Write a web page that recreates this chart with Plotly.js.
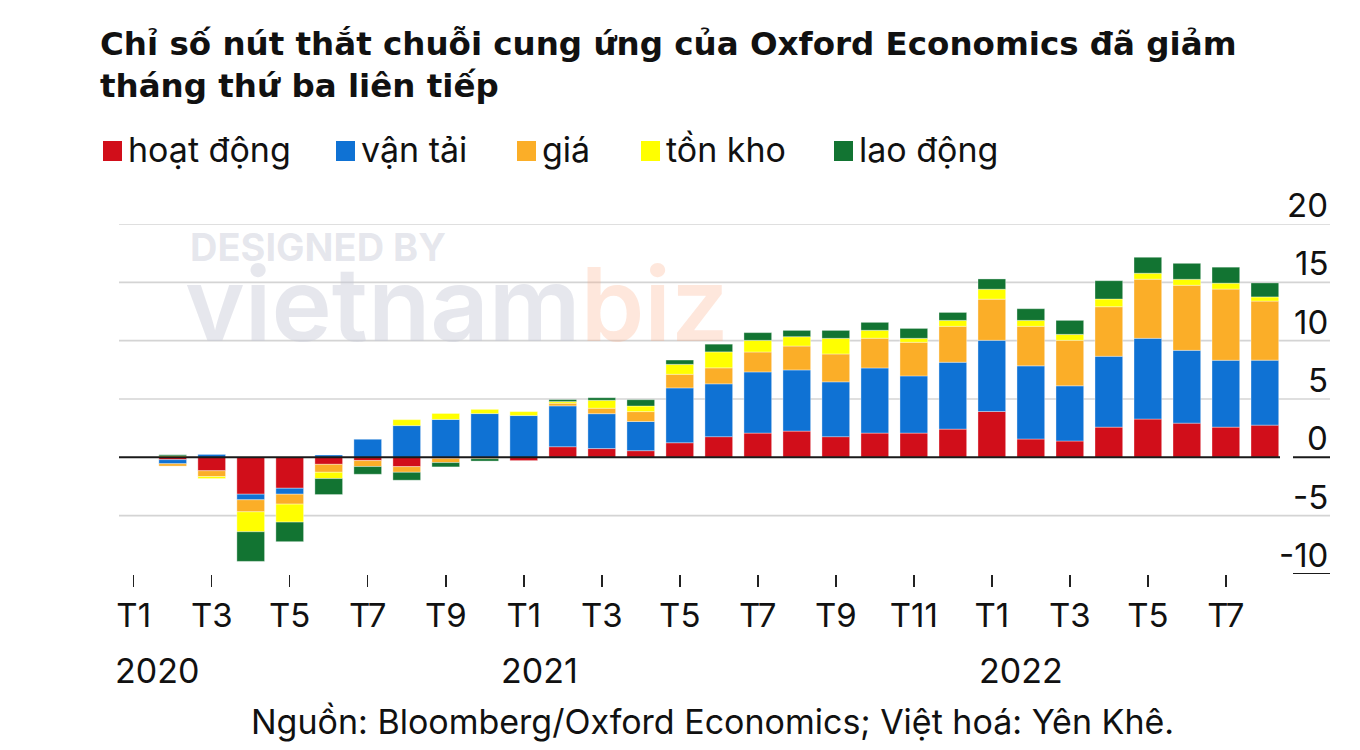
<!DOCTYPE html>
<html>
<head>
<meta charset="utf-8">
<script src="https://cdn.plot.ly/plotly-3.0.1.min.js"></script>
<style>
  html, body { margin: 0; padding: 0; background: #ffffff; }
  #chart { width: 1360px; height: 750px; }
</style>
</head>
<body>
<div id="chart"></div>
<script>
// ---- DATA ----
// slot index 0..29 = monthly positions (slot 0 = T1/2020 has no bar)
const slots = [0,1,2,3,4,5,6,7,8,9,10,11,12,13,14,15,16,17,18,19,20,21,22,23,24,25,26,27,28,29];

const seriesNames = ['hoạt động', 'vận tải', 'giá', 'tồn kho', 'lao động'];

const hoatDong = [null,-0.2,-1.15,-3.16,-2.65,-0.6,-0.28,-0.8,-0.1,null,-0.28,0.91,0.75,0.57,1.25,1.77,2.08,2.25,1.77,2.08,2.08,2.42,3.93,1.57,1.4,2.59,3.28,2.93,2.59,2.76];
const vanTai   = [null,-0.35,0.25,-0.48,-0.51,0.2,1.55,2.72,3.25,3.75,3.58,3.5,2.99,2.5,4.7,4.53,5.24,5.24,4.7,5.58,4.9,5.73,6.1,6.27,4.73,6.07,6.92,6.24,5.73,5.57];
const gia      = [null,-0.2,-0.5,-1.03,-0.85,-0.68,-0.51,-0.48,-0.35,-0.12,null,0.23,0.47,0.85,1.17,1.37,1.71,2.05,2.39,2.55,2.88,3.08,3.53,3.39,3.9,4.25,5.07,5.58,6.1,5.06];
const tonKho   = [null,0.12,-0.17,-1.71,-1.54,-0.54,null,0.51,0.51,0.36,0.34,0.14,0.68,0.48,0.85,1.37,1.0,0.8,1.34,0.68,0.34,0.51,0.85,0.51,0.51,0.66,0.51,0.51,0.51,0.36];
const laoDong  = [null,0.1,null,-2.54,-1.68,-1.37,-0.66,-0.68,-0.37,-0.2,null,0.17,0.22,0.54,0.37,0.66,0.66,0.54,0.68,0.68,0.85,0.68,0.88,1.0,1.2,1.57,1.37,1.37,1.37,1.2];

const tickSlots  = [0,2,4,6,8,10,12,14,16,18,20,22,24,26,28];
const tickLabels = ['T1','T3','T5','T7','T9','T1','T3','T5','T7','T9','T11','T1','T3','T5','T7'];
const yearLabels = ['2020','2021','2022'];
const yTicks = [-10,-5,0,5,10,15,20];
const yTickText = ['-10','-5','0','5','10','15','20'];

const titleText = 'Chỉ số nút thắt chuỗi cung ứng của Oxford Economics đã giảm<br>tháng thứ ba liên tiếp';
const sourceText = 'Nguồn: Bloomberg/Oxford Economics; Việt hoá: Yên Khê.';

// ---- STYLE ----
const colors = ['#d10e1a', '#0f72d4', '#fbae28', '#ffff00', '#127432'];
const FONT = 'Inter, "Noto Sans", "Liberation Sans", sans-serif';
const TFONT = '"DejaVu Sans", Inter, sans-serif';

// plot area in pixels
const L = 119, R = 30, T = 224, B = 176, W = 1360, H = 750;
const pw = W - L - R, ph = H - T - B;
const px = p => (p - L) / pw;         // pixel x -> paper x
const py = p => (H - B - p) / ph;     // pixel y -> paper y

const allSeries = [hoatDong, vanTai, gia, tonKho, laoDong];
const traces = allSeries.map((vals, i) => ({
  type: 'bar',
  name: seriesNames[i],
  x: slots,
  y: vals,
  width: 0.71,
  marker: { color: colors[i], line: { color: 'rgba(255,255,255,0.35)', width: 1 } },
  hoverinfo: 'skip',
  showlegend: false
}));

const shapes = [];
const annotations = [];

// gridlines (grey) except 0 and -10
yTicks.forEach(v => {
  if (v === 0 || v === -10) return;
  shapes.push({ type: 'line', layer: 'below', xref: 'paper', yref: 'y', x0: 0, x1: 1, y0: v, y1: v,
    line: { color: '#d4d4d4', width: 1.6 } });
});
// zero baseline under the bars
shapes.push({ type: 'line', layer: 'above', xref: 'paper', yref: 'y', x0: 0, x1: px(1280), y0: 0, y1: 0,
  line: { color: '#1a1a1a', width: 2 } });
// short underline under "0" and "-10" labels
[0, -10].forEach(v => shapes.push({ type: 'line', layer: 'above', xref: 'paper', yref: 'y', x0: px(1293), x1: 1, y0: v, y1: v,
  line: { color: '#1a1a1a', width: 2 } }));

// y tick labels sitting above their gridlines at the right edge
yTicks.forEach((v, i) => annotations.push({ xref: 'paper', yref: 'y', x: 1, y: v, xanchor: 'right', yanchor: 'bottom',
  yshift: -3, text: yTickText[i], showarrow: false, font: { family: FONT, size: 33, color: '#111' } }));

// custom legend
const legendX = [103, 336, 517, 641, 834];
seriesNames.forEach((n, i) => {
  shapes.push({ type: 'rect', xref: 'paper', yref: 'paper', x0: px(legendX[i]), x1: px(legendX[i] + 19),
    y0: py(161), y1: py(141), fillcolor: colors[i], line: { width: 0 } });
  annotations.push({ xref: 'paper', yref: 'paper', x: px(legendX[i] + 23), y: py(150), xanchor: 'left', yanchor: 'middle',
    text: n, showarrow: false, font: { family: FONT, size: 34, color: '#111' } });
});

// year labels
annotations.push({ xref: 'paper', yref: 'paper', x: px(113), y: py(670), xanchor: 'left', yanchor: 'middle', text: yearLabels[0], showarrow: false, font: { family: FONT, size: 34, color: '#111' } });
annotations.push({ xref: 'x', yref: 'paper', x: 10.4, y: py(670), xanchor: 'center', yanchor: 'middle', text: yearLabels[1], showarrow: false, font: { family: FONT, size: 34, color: '#111' } });
annotations.push({ xref: 'x', yref: 'paper', x: 22.75, y: py(670), xanchor: 'center', yanchor: 'middle', text: yearLabels[2], showarrow: false, font: { family: FONT, size: 34, color: '#111' } });

// source
annotations.push({ xref: 'paper', yref: 'paper', x: px(712), y: py(721), xanchor: 'center', yanchor: 'middle', text: sourceText, showarrow: false, font: { family: FONT, size: 34, color: '#111' } });

// watermark
annotations.push({ xref: 'paper', yref: 'paper', x: px(318), y: py(247), xanchor: 'center', yanchor: 'middle', text: 'DESIGNED BY', showarrow: false,
  font: { family: FONT, size: 38, weight: 700, color: 'rgba(200,202,214,0.45)' } });
annotations.push({ xref: 'paper', yref: 'paper', x: px(457), y: py(304), xanchor: 'center', yanchor: 'middle',
  text: '<span style="color:rgba(200,202,214,0.45)">vietnam</span><span style="color:rgba(250,170,130,0.28)">biz</span>', showarrow: false,
  font: { family: FONT, size: 102, weight: 600 } });

const layout = {
  width: W, height: H,
  margin: { l: L, r: R, t: T, b: B, pad: 0 },
  paper_bgcolor: '#ffffff', plot_bgcolor: 'rgba(0,0,0,0)',
  barmode: 'relative',
  title: { text: titleText, x: 100 / W, xanchor: 'left', xref: 'container', yref: 'container', y: 1 - 55 / H, yanchor: 'top',
    font: { family: TFONT, size: 32.5, weight: 700, color: '#111' } },
  xaxis: {
    range: [-0.377, 30.67], tickmode: 'array', tickvals: tickSlots, ticktext: tickLabels,
    ticks: 'outside', ticklen: 12, tickwidth: 1.5, tickcolor: '#222',
    showgrid: false, zeroline: false, showline: false, fixedrange: true,
    tickfont: { family: FONT, size: 33, color: '#111' }
  },
  yaxis: {
    side: 'right', range: [-10, 20], showticklabels: false, ticks: '',
    showgrid: false, zeroline: false, showline: false, fixedrange: true
  },
  shapes: shapes,
  annotations: annotations
};

Plotly.newPlot('chart', traces, layout, { displayModeBar: false, staticPlot: true });
</script>
</body>
</html>
